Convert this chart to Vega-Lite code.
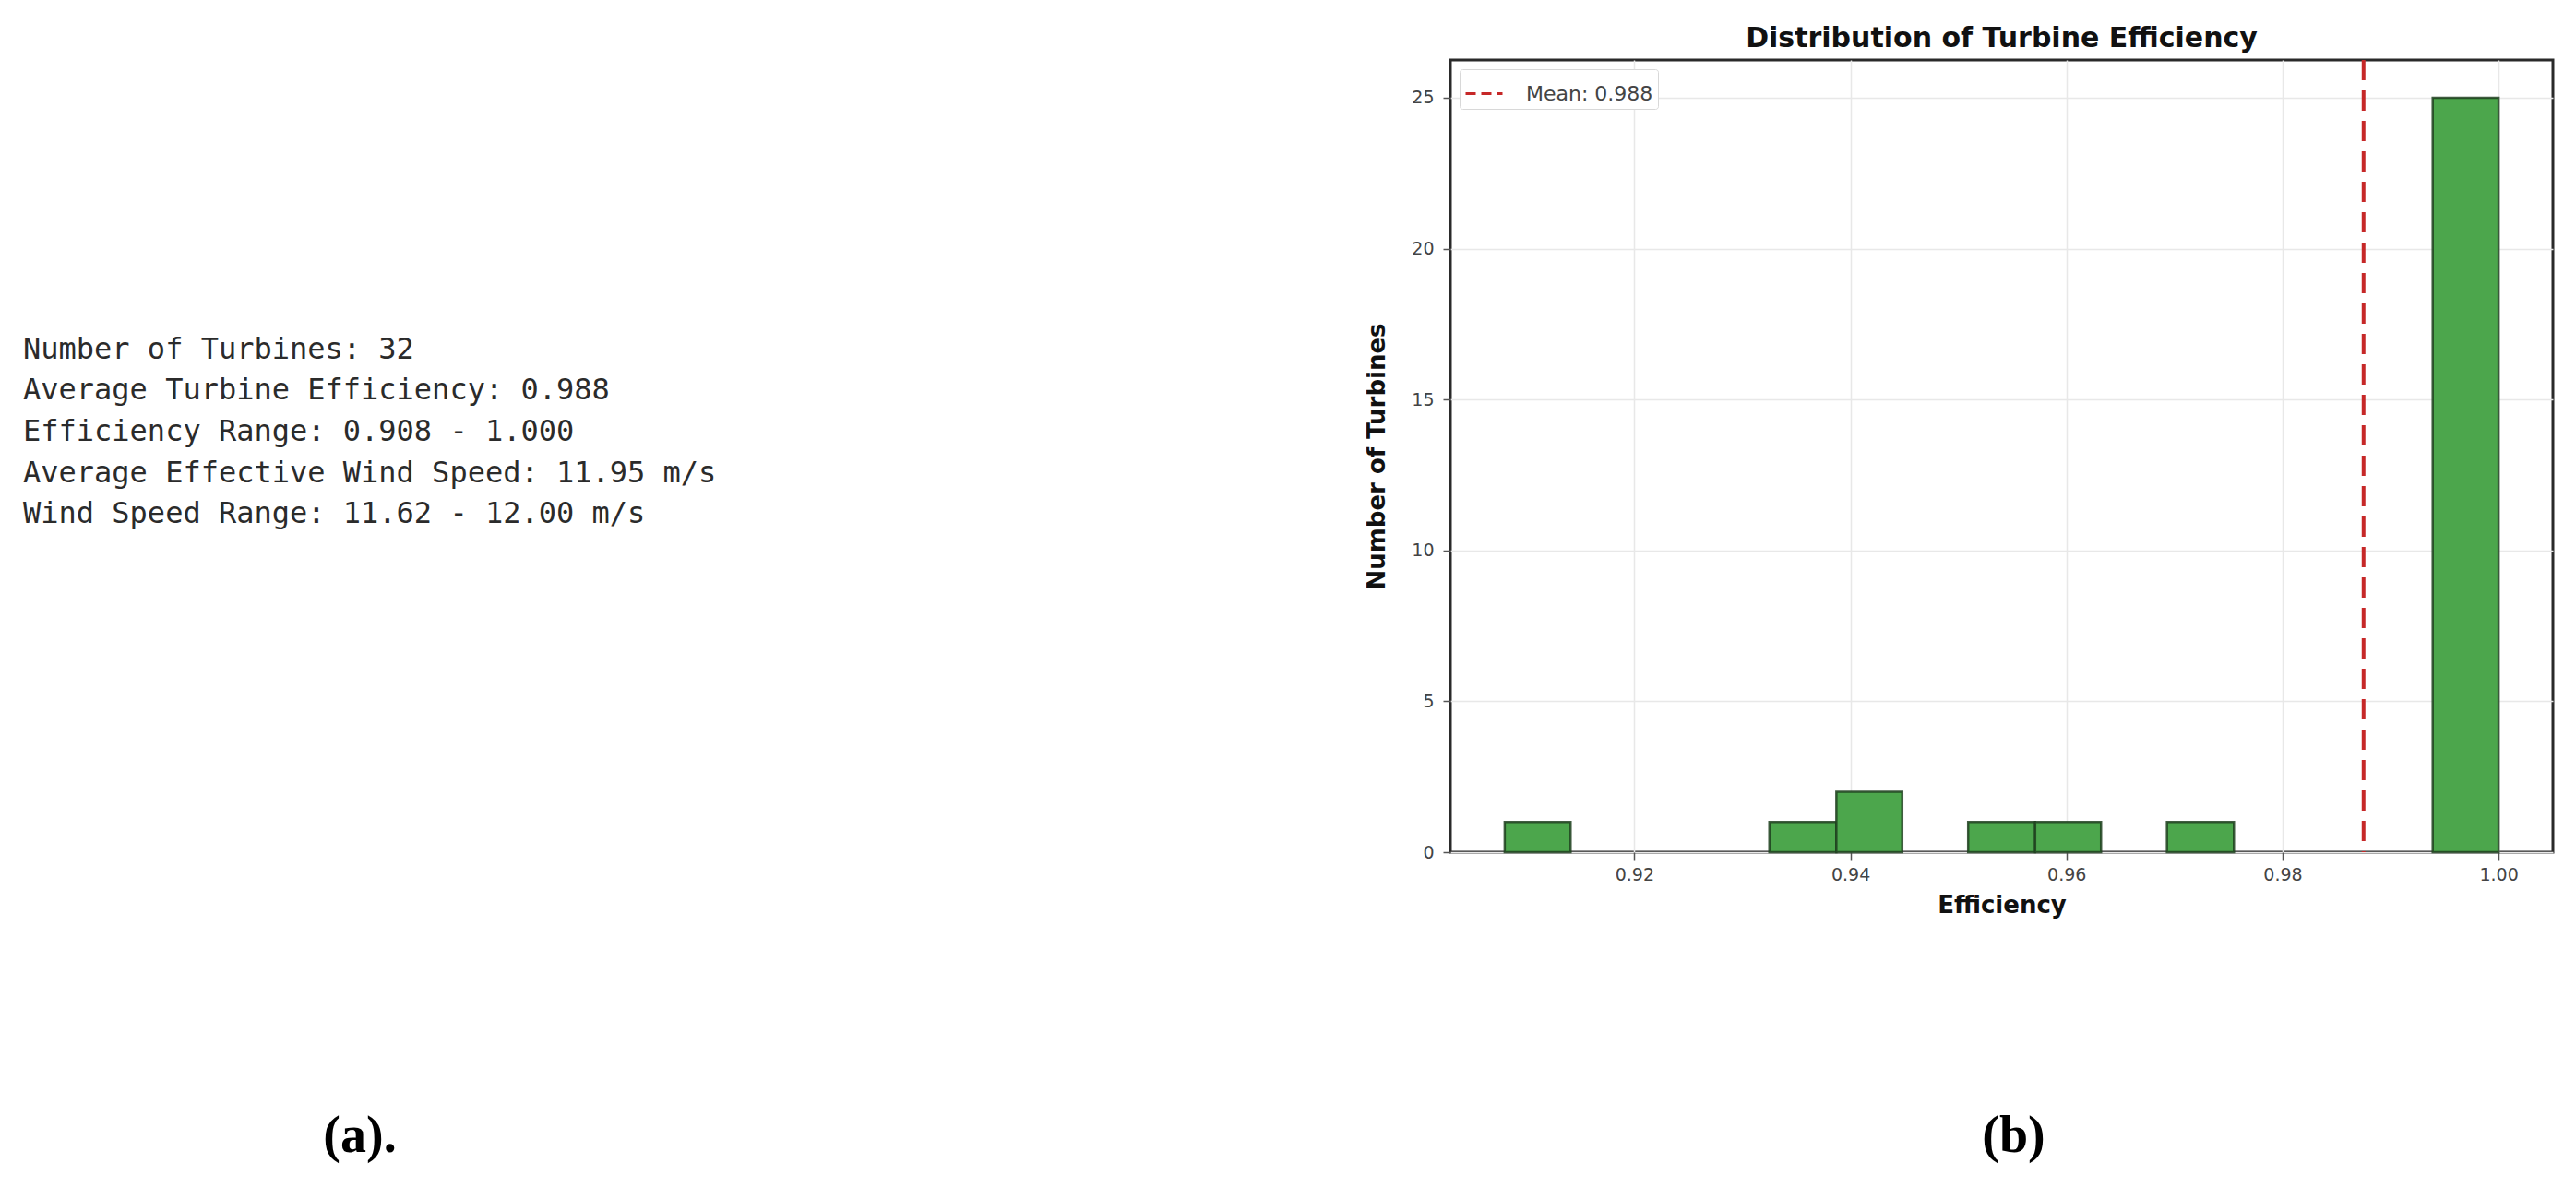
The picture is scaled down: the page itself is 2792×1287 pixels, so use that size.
{
  "$schema": "https://vega.github.io/schema/vega-lite/v6.json",
  "background": "white",
  "padding": {"top": 25, "left": 25, "right": 0, "bottom": 0},
  "bounds": "flush",
  "columns": 2,
  "spacing": {"row": 258, "column": 817},
  "resolve": {"legend": {"color": "independent"}, "scale": {"color": "independent"}},
  "config": {"view": {"stroke": null}, "font": "DejaVu Sans"},
  "concat": [
    {
      "width": 730,
      "height": 859,
      "data": {"values": [
        {"line": 1, "text": "Number of Turbines: 32"},
        {"line": 2, "text": "Average Turbine Efficiency: 0.988"},
        {"line": 3, "text": "Efficiency Range: 0.908 - 1.000"},
        {"line": 4, "text": "Average Effective Wind Speed: 11.95 m/s"},
        {"line": 5, "text": "Wind Speed Range: 11.62 - 12.00 m/s"}
      ]},
      "mark": {"type": "text", "align": "left", "baseline": "middle", "font": "DejaVu Sans Mono", "fontSize": 32, "color": "#2b2b2b"},
      "encoding": {
        "x": {"datum": 0, "type": "quantitative", "scale": {"domain": [0, 1], "nice": false, "zero": false}, "axis": null},
        "y": {"field": "line", "type": "quantitative", "scale": {"domain": [-6.056, 13.247], "nice": false, "zero": false, "reverse": true}, "axis": null},
        "text": {"field": "text"}
      }
    },
    {
      "width": 1195,
      "height": 859,
      "view": {"stroke": "#2a2a2a", "strokeWidth": 3},
      "title": {"text": "Distribution of Turbine Efficiency", "fontSize": 30, "fontWeight": "bold", "font": "DejaVu Sans", "color": "#111111", "offset": 6, "anchor": "middle"},
      "layer": [
        {
          "data": {"values": [
            {"bin_start": 0.9080, "bin_end": 0.9141, "count": 1},
            {"bin_start": 0.9325, "bin_end": 0.9387, "count": 1},
            {"bin_start": 0.9387, "bin_end": 0.9448, "count": 2},
            {"bin_start": 0.9509, "bin_end": 0.9571, "count": 1},
            {"bin_start": 0.9571, "bin_end": 0.9632, "count": 1},
            {"bin_start": 0.9693, "bin_end": 0.9755, "count": 1},
            {"bin_start": 0.9939, "bin_end": 1.0000, "count": 25}
          ]},
          "mark": {"type": "bar", "orient": "vertical", "fill": "#4ca64c", "stroke": "#1f3f1f", "strokeWidth": 2.5, "strokeOpacity": 0.85},
          "encoding": {
            "x": {
              "field": "bin_start", "type": "quantitative",
              "scale": {"domain": [0.9034, 1.0046], "nice": false, "zero": false},
              "axis": {"values": [0.92, 0.94, 0.96, 0.98, 1.0], "format": ".2f", "title": "Efficiency",
                "titleFontSize": 26, "titleFontWeight": "bold", "titleColor": "#111111", "titlePadding": 10,
                "labelFontSize": 19, "labelColor": "#444444", "labelPadding": 7, "tickSize": 8, "tickColor": "#555555", "tickWidth": 1.5,
                "domain": false, "grid": true, "gridColor": "#e8e8e8", "gridWidth": 1.5}
            },
            "x2": {"field": "bin_end"},
            "y": {
              "field": "count", "type": "quantitative",
              "scale": {"domain": [0, 26.25], "nice": false, "zero": false},
              "axis": {"values": [0, 5, 10, 15, 20, 25], "format": "d", "title": "Number of Turbines",
                "titleFontSize": 26, "titleFontWeight": "bold", "titleColor": "#111111", "titlePadding": 24,
                "labelFontSize": 19, "labelColor": "#444444", "labelPadding": 10, "tickSize": 8, "tickColor": "#555555", "tickWidth": 1.5,
                "domain": false, "grid": true, "gridColor": "#e8e8e8", "gridWidth": 1.5}
            },
            "y2": {"datum": 0}
          }
        },
        {
          "data": {"values": [{"mean": 0.9875, "label": "Mean: 0.988"}]},
          "mark": {"type": "rule", "strokeDash": [22, 11], "strokeWidth": 4},
          "encoding": {
            "x": {"field": "mean", "type": "quantitative"},
            "color": {"field": "label", "type": "nominal", "scale": {"range": ["#c62828"]},
              "legend": {"title": null, "orient": "top-left", "offset": 10, "symbolType": "stroke", "symbolSize": 1600,
                "symbolStrokeWidth": 3, "symbolDash": [11, 6], "labelFontSize": 22, "labelColor": "#444444", "labelOffset": 24,
                "padding": 5, "fillColor": "white", "strokeColor": "#d8d8d8", "cornerRadius": 3}}
          }
        }
      ]
    },
    {
      "width": 730,
      "height": 100,
      "data": {"values": [{"label": "(a)."}]},
      "mark": {"type": "text", "font": "Liberation Serif", "fontWeight": "bold", "fontSize": 56, "baseline": "middle", "color": "black"},
      "encoding": {"text": {"field": "label"}}
    },
    {
      "width": 1195,
      "height": 100,
      "data": {"values": [{"label": "(b)"}]},
      "mark": {"type": "text", "font": "Liberation Serif", "fontWeight": "bold", "fontSize": 56, "baseline": "middle", "color": "black", "dx": 13},
      "encoding": {"text": {"field": "label"}}
    }
  ]
}
